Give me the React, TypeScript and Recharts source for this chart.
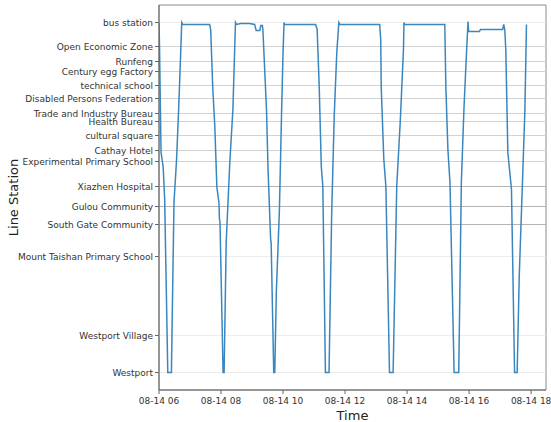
import React from "react";
import {
  LineChart,
  Line,
  XAxis,
  YAxis,
  ReferenceLine,
  ReferenceArea,
  Label,
} from "recharts";

const stationNames = [
  "Westport",
  "Westport Village",
  "Mount Taishan Primary School",
  "South Gate Community",
  "Gulou Community",
  "Xiazhen Hospital",
  "Experimental Primary School",
  "Cathay Hotel",
  "cultural square",
  "Health Bureau",
  "Trade and Industry Bureau",
  "Disabled Persons Federation",
  "technical school",
  "Century egg Factory",
  "Runfeng",
  "Open Economic Zone",
  "bus station",
];
const stationPos = [
  0, 3.7, 11.6, 14.8, 16.6, 18.6, 21.1, 22.2, 23.7, 25.1, 25.9, 27.4, 28.7,
  30.1, 31.1, 32.6, 35.0,
];
// grid shade per station line: 0 light, 1 medium, 2 dark
const gridShade = [0, 0, 0, 2, 2, 2, 1, 1, 1, 1, 1, 1, 1, 1, 1, 1, 0];

const times = [
  "06:00", "06:01", "06:03", "06:04", "06:08", "06:11", "06:17", "06:24",
  "06:29", "06:34", "06:38", "06:42", "06:44", "06:46",
  "07:38", "07:40", "07:44", "07:48", "07:52", "07:56", "07:57", "07:58",
  "08:04", "08:06", "08:10", "08:17", "08:23", "08:26", "08:28", "08:30",
  "08:38", "08:46", "08:55", "09:05", "09:08", "09:15", "09:17", "09:20",
  "09:21", "09:28", "09:31", "09:36", "09:37", "09:42", "09:44", "09:47",
  "09:53", "09:57", "10:00", "10:02", "10:03",
  "11:03", "11:06", "11:10", "11:14", "11:17", "11:22", "11:29", "11:34",
  "11:39", "11:44", "11:48", "11:50",
  "13:07", "13:09", "13:10", "13:15", "13:19", "13:26", "13:33", "13:40",
  "13:47", "13:53", "13:54", "13:55",
  "15:13", "15:15", "15:19", "15:23", "15:31", "15:40", "15:45", "15:50",
  "15:55", "15:58", "15:59", "16:20", "16:22", "17:05", "17:07", "17:09",
  "17:11", "17:15", "17:22", "17:28", "17:33", "17:37", "17:43", "17:48",
  "17:51",
];
const positions = [
  35.0, 32.6, 25.3, 22.0, 20.6, 17.3, 0, 0,
  17.0, 21.3, 26.3, 32.0, 35.0, 34.8,
  34.8, 34.3, 28.5, 24.6, 18.5, 17.0, 15.3, 15.1,
  0, 0, 13.0, 21.0, 26.3, 31.6, 35.0, 34.8,
  34.9, 34.9, 34.9, 34.8, 34.2, 34.2, 34.7, 34.7,
  34.3, 26.3, 20.3, 13.3, 13.0, 0, 0, 8.0,
  16.3, 25.6, 32.0, 35.0, 34.8,
  34.8, 34.3, 28.6, 20.6, 18.6, 0, 0, 15.6,
  25.6, 32.0, 35.0, 34.8,
  34.8, 33.3, 28.5, 21.3, 18.6, 0, 0, 18.6,
  25.3, 32.3, 35.0, 34.8,
  34.8, 28.6, 22.3, 19.0, 0, 0, 19.0, 26.3,
  32.0, 35.1, 34.1, 34.1, 34.3, 34.3, 34.8, 34.3,
  32.3, 22.0, 18.3, 0, 0, 9.6, 18.6, 26.3,
  34.8,
];
const xTicks = [6, 8, 10, 12, 14, 16, 18];
const datePrefix = "08-14";

const toHours = (s: string) => {
  const [h, m] = s.split(":").map(Number);
  return h + m / 60;
};

const data = times.map((t, i) => ({ t: toHours(t), v: positions[i] }));

const X_DOMAIN: [number, number] = [6, 18.48];
const Y_DOMAIN: [number, number] = [-1.75, 36.75];
const shadeColors = ["#ececec", "#d2d2d2", "#b4b4b4"];
const FONT = "DejaVu Sans, sans-serif";

const YTick = (props: any) => {
  const { x, y, payload } = props;
  const i = stationPos.indexOf(payload.value);
  return (
    <text
      x={x}
      y={y}
      dy={3.2}
      textAnchor="end"
      fill="#333"
      fontSize={9}
      fontFamily={FONT}
    >
      {i >= 0 ? stationNames[i] : ""}
    </text>
  );
};

const XTick = (props: any) => {
  const { x, y, payload } = props;
  return (
    <text
      x={x}
      y={y}
      dy={8}
      textAnchor="middle"
      fill="#333"
      fontSize={9}
      fontFamily={FONT}
    >
      {`${datePrefix} ${String(payload.value).padStart(2, "0")}`}
    </text>
  );
};

export default function App() {
  return (
    <div style={{ position: "absolute", left: 0, top: 0, background: "#fff" }}>
      <LineChart
        width={551}
        height={422}
        data={data}
        margin={{ top: 5, right: 5, bottom: 2, left: 9 }}
        style={{ fontFamily: FONT }}
      >
        {stationPos.map((p, i) => (
          <ReferenceLine
            key={stationNames[i]}
            y={p}
            stroke={shadeColors[gridShade[i]]}
            strokeWidth={1}
          />
        ))}
        <ReferenceArea
          x1={X_DOMAIN[0]}
          x2={X_DOMAIN[1]}
          y1={Y_DOMAIN[0]}
          y2={Y_DOMAIN[1]}
          fill="none"
          stroke="#8a8a8a"
          strokeWidth={1}
        />
        <XAxis
          dataKey="t"
          type="number"
          domain={X_DOMAIN}
          allowDataOverflow
          ticks={xTicks}
          interval={0}
          height={30}
          tickSize={4}
          tickMargin={2}
          stroke="#666"
          tick={<XTick />}
        >
          <Label
            value="Time"
            position="insideBottom"
            offset={0}
            style={{ fill: "#222", fontSize: 13, fontFamily: FONT }}
          />
        </XAxis>
        <YAxis
          dataKey="v"
          type="number"
          domain={Y_DOMAIN}
          allowDataOverflow
          ticks={stationPos}
          interval={0}
          width={150}
          tickSize={4}
          tickMargin={2}
          stroke="#666"
          tick={<YTick />}
        >
          <Label
            value="Line Station"
            angle={-90}
            position="insideLeft"
            offset={4}
            style={{
              fill: "#222",
              fontSize: 13,
              fontFamily: FONT,
              textAnchor: "middle",
            }}
          />
        </YAxis>
        <Line
          type="linear"
          dataKey="v"
          stroke="#3a87c0"
          strokeWidth={1.5}
          dot={false}
          isAnimationActive={false}
        />
      </LineChart>
    </div>
  );
}
